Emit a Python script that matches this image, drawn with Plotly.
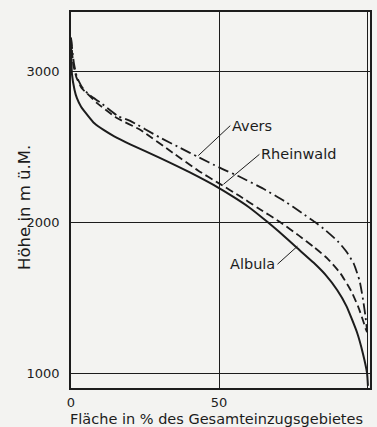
import plotly.graph_objects as go

# Hypsometric curves (area % vs altitude m a.s.l.)
albula_x = [0, 0.3, 1.2, 2, 3.4, 5.5, 7.9, 11, 14.6, 20, 30, 40, 50, 55, 60, 66.4, 70, 76.4, 82, 86, 89.9, 93, 96.6, 98.6, 100, 100.3]
albula_y = [3220, 2985, 2875, 2820, 2764, 2710, 2654, 2610, 2568, 2515, 2425, 2330, 2225, 2165, 2100, 2000, 1940, 1828, 1730, 1650, 1550, 1445, 1270, 1130, 1000, 915]

rhein_x = [0, 0.8, 1.8, 3.5, 5.5, 8.8, 15.5, 23.5, 35, 43, 50, 57, 63, 70.6, 77, 82, 86.8, 91, 94.6, 97, 98.7, 99.6, 100]
rhein_y = [3220, 3040, 2960, 2890, 2850, 2788, 2689, 2609, 2450, 2340, 2256, 2172, 2095, 2000, 1910, 1835, 1755, 1660, 1545, 1440, 1345, 1290, 1270]

avers_x = [0, 1, 2, 3.7, 6, 10, 16, 20, 30, 37, 43, 50, 57, 65, 72, 78, 82.4, 86, 90, 93, 95.5, 97.5, 98.7, 99.5, 100]
avers_y = [3220, 3050, 2960, 2895, 2845, 2790, 2700, 2670, 2560, 2490, 2430, 2362, 2300, 2220, 2140, 2060, 2000, 1945, 1875, 1805, 1725, 1610, 1480, 1370, 1280]

x_ticks = [0, 50, 100]
y_ticks = [1000, 2000, 3000]

ink = "#1c1c1c"
paper = "#f3f3f1"
font = "DejaVu Sans"

fig = go.Figure()
fig.add_trace(go.Scatter(x=albula_x, y=albula_y, mode="lines", name="Albula",
                         line=dict(color=ink, width=2, shape="spline", smoothing=0.5)))
fig.add_trace(go.Scatter(x=rhein_x, y=rhein_y, mode="lines", name="Rheinwald",
                         line=dict(color=ink, width=1.8, dash="8px,4px", shape="spline", smoothing=0.5)))
fig.add_trace(go.Scatter(x=avers_x, y=avers_y, mode="lines", name="Avers",
                         line=dict(color=ink, width=1.8, dash="11px,4px,2px,4px", shape="spline", smoothing=0.5)))

ann = [
    dict(x=43, y=2440, text="Avers", ax=32, ay=-30, xanchor="left"),
    dict(x=51.5, y=2250, text="Rheinwald", ax=36, ay=-30, xanchor="left"),
    dict(x=76.5, y=1840, text="Albula", ax=-20, ay=18, xanchor="right"),
]
annotations = []
for a in ann:
    annotations.append(dict(x=a["x"], y=a["y"], xref="x", yref="y", text=a["text"],
                            showarrow=True, ax=a["ax"], ay=a["ay"], arrowhead=0,
                            arrowwidth=1, arrowcolor=ink, xanchor=a["xanchor"],
                            font=dict(family=font, size=14.5, color=ink)))
annotations.append(dict(text="Höhe in m ü.M.", xref="paper", yref="paper", x=-0.158, y=0.481,
                        textangle=-90, showarrow=False, xanchor="center", yanchor="middle",
                        font=dict(family=font, size=16.5, color=ink)))
annotations.append(dict(text="Fläche in % des Gesamteinzugsgebietes", xref="paper", yref="paper",
                        x=0.488, y=-0.082, showarrow=False, xanchor="center", yanchor="middle",
                        font=dict(family=font, size=14.5, color=ink)))

fig.update_layout(
    width=377, height=427,
    margin=dict(l=71, r=7, t=12, b=39, autoexpand=False),
    paper_bgcolor=paper, plot_bgcolor=paper,
    showlegend=False,
    annotations=annotations,
    font=dict(family=font, size=12, color=ink),
)
fig.update_xaxes(range=[0, 101], tickvals=x_ticks, ticktext=[str(v) for v in x_ticks],
                 showgrid=True, gridcolor=ink, gridwidth=1, zeroline=False,
                 showline=True, linecolor=ink, linewidth=1.5, mirror=True, automargin=False,
                 ticks="", ticklabelstandoff=2, tickfont=dict(size=13))
fig.update_yaxes(range=[901, 3391], tickvals=y_ticks, ticktext=[str(v) for v in y_ticks],
                 showgrid=True, gridcolor=ink, gridwidth=1, zeroline=False,
                 showline=True, linecolor=ink, linewidth=1.5, mirror=True, automargin=False,
                 ticks="", ticklabelstandoff=7, tickfont=dict(size=13))

fig.write_html("out.html", config={"displayModeBar": False},
               post_script="document.body.style.margin='0';document.body.style.overflow='hidden';document.body.style.background='" + paper + "';")
